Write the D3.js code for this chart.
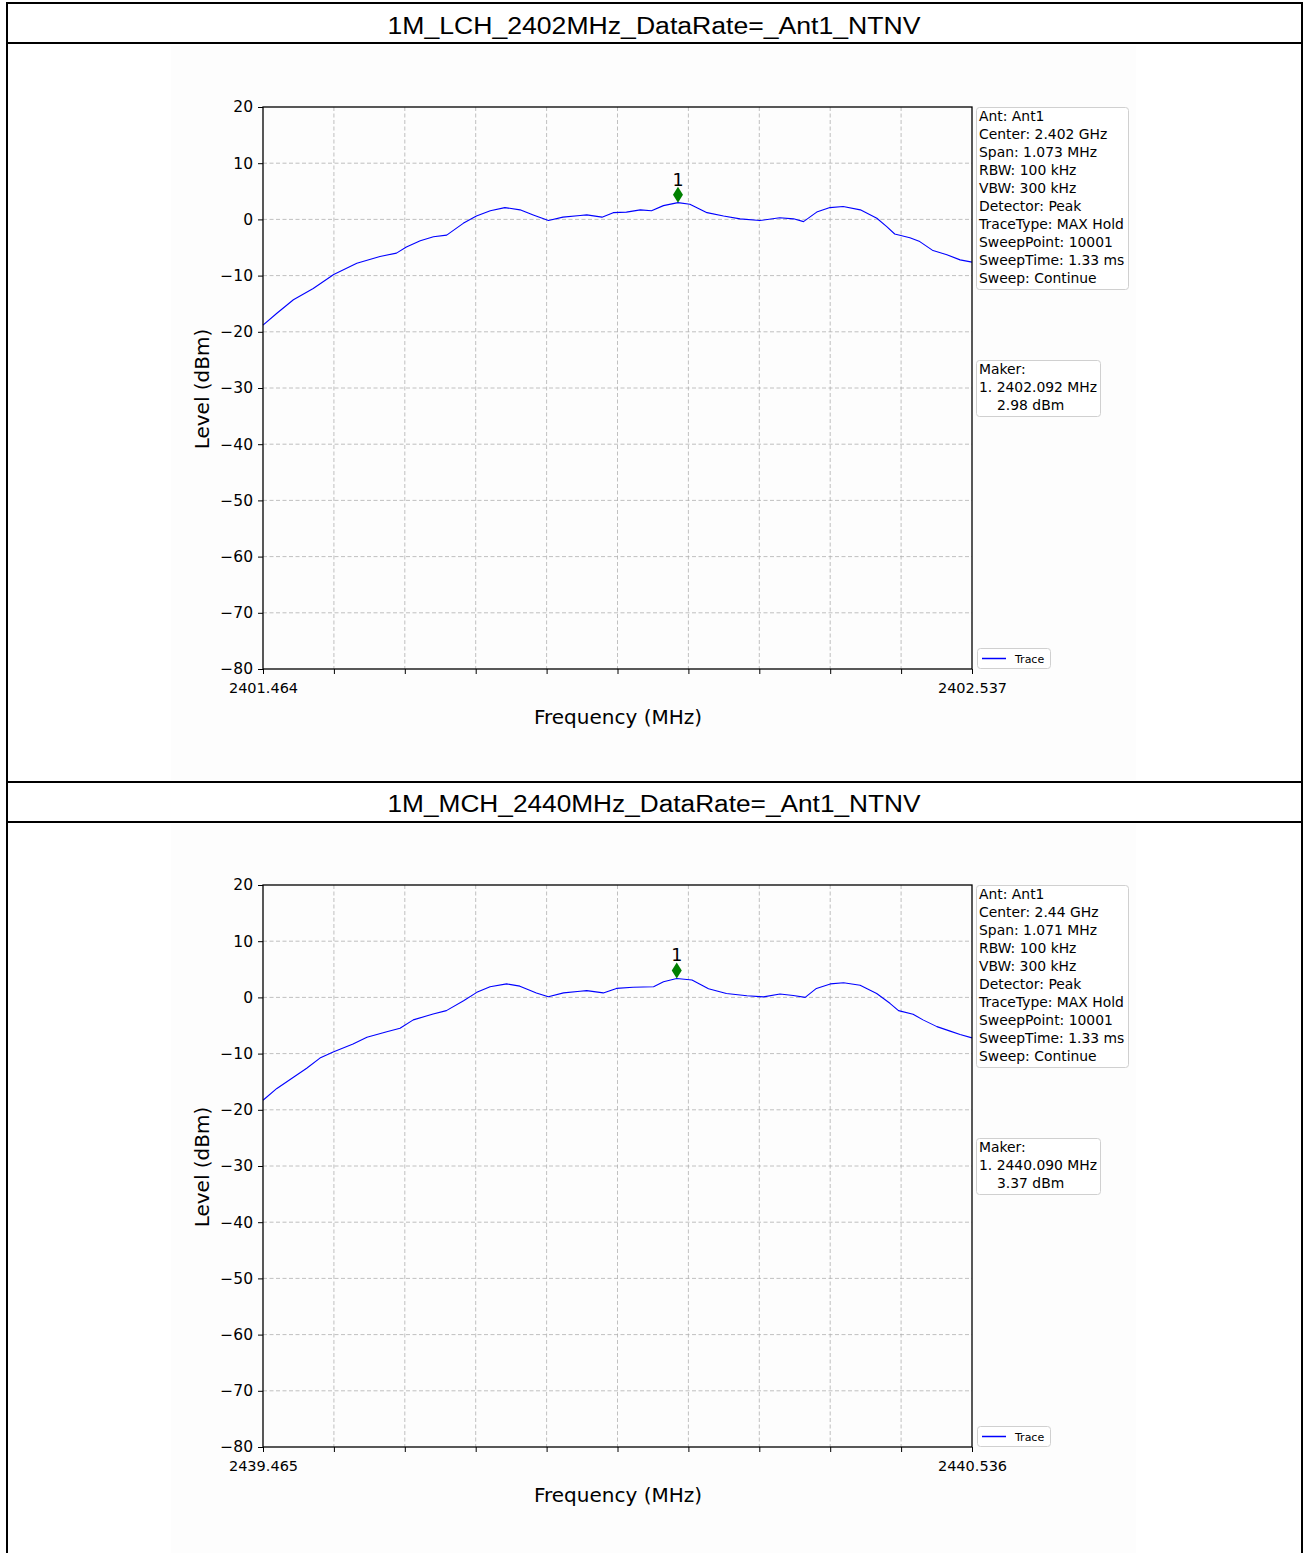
<!DOCTYPE html>
<html>
<head>
<meta charset="utf-8">
<script src="https://cdn.jsdelivr.net/npm/d3@7"></script>
<style>
  body { margin: 0; background: #fff; }
  svg { display: block; }
  .mpl text { font-family: "DejaVu Sans", sans-serif; fill: #000; }
</style>
</head>
<body>
<div id="page"></div>
<script>
// titles of the two table rows
var titles = ["1M_LCH_2402MHz_DataRate=_Ant1_NTNV", "1M_MCH_2440MHz_DataRate=_Ant1_NTNV"];

// frequency span (MHz) of each plot
var freqRanges = [[2401.464, 2402.537], [2439.465, 2440.536]];

// trace: low channel
var lchFreq = [2401.464, 2401.485, 2401.510, 2401.540, 2401.571, 2401.606, 2401.641, 2401.666, 2401.681, 2401.702,
  2401.722, 2401.742, 2401.767, 2401.787, 2401.808, 2401.830, 2401.853, 2401.873, 2401.896, 2401.918,
  2401.944, 2401.954, 2401.977, 2401.994, 2402.014, 2402.035, 2402.052, 2402.070, 2402.092, 2402.110,
  2402.136, 2402.161, 2402.186, 2402.216, 2402.246, 2402.267, 2402.282, 2402.302, 2402.322, 2402.342,
  2402.368, 2402.393, 2402.408, 2402.420, 2402.443, 2402.458, 2402.478, 2402.499, 2402.519, 2402.537];
var lchLevel = [-18.8, -16.7, -14.3, -12.3, -9.8, -7.8, -6.6, -6.0, -4.9, -3.8,
  -3.1, -2.8, -0.7, 0.6, 1.55, 2.1, 1.7, 0.8, -0.2, 0.4,
  0.7, 0.8, 0.4, 1.2, 1.3, 1.7, 1.55, 2.45, 2.98, 2.7,
  1.2, 0.6, 0.1, -0.2, 0.3, 0.1, -0.4, 1.3, 2.1, 2.3,
  1.7, 0.2, -1.3, -2.6, -3.25, -3.95, -5.55, -6.3, -7.2, -7.6];

// trace: middle channel
var mchFreq = [2439.465, 2439.486, 2439.511, 2439.531, 2439.551, 2439.571, 2439.601, 2439.622, 2439.652, 2439.672,
  2439.692, 2439.722, 2439.742, 2439.768, 2439.788, 2439.808, 2439.833, 2439.853, 2439.878, 2439.896,
  2439.919, 2439.944, 2439.954, 2439.979, 2439.999, 2440.024, 2440.055, 2440.070, 2440.090, 2440.113,
  2440.138, 2440.165, 2440.196, 2440.221, 2440.246, 2440.266, 2440.284, 2440.301, 2440.322, 2440.342,
  2440.367, 2440.392, 2440.412, 2440.425, 2440.447, 2440.462, 2440.483, 2440.503, 2440.518, 2440.536];
var mchLevel = [-18.3, -16.2, -14.2, -12.6, -10.8, -9.7, -8.3, -7.1, -6.1, -5.5,
  -4.0, -2.95, -2.35, -0.6, 0.9, 1.9, 2.4, 2.0, 0.8, 0.1,
  0.8, 1.1, 1.2, 0.8, 1.6, 1.8, 1.9, 2.8, 3.37, 3.1,
  1.55, 0.7, 0.3, 0.1, 0.6, 0.35, 0.0, 1.6, 2.4, 2.6,
  2.15, 0.7, -1.05, -2.35, -3.0, -4.0, -5.2, -6.0, -6.6, -7.2];

// markers
var markerFreq = [2402.092, 2440.090];
var markerLevel = [2.98, 3.37];

// y ticks
var levelTicks = [20, 10, 0, -10, -20, -30, -40, -50, -60, -70, -80];

// info box texts
var lchInfo = ["Ant: Ant1", "Center: 2.402 GHz", "Span: 1.073 MHz", "RBW: 100 kHz", "VBW: 300 kHz",
  "Detector: Peak", "TraceType: MAX Hold", "SweepPoint: 10001", "SweepTime: 1.33 ms", "Sweep: Continue"];
var mchInfo = ["Ant: Ant1", "Center: 2.44 GHz", "Span: 1.071 MHz", "RBW: 100 kHz", "VBW: 300 kHz",
  "Detector: Peak", "TraceType: MAX Hold", "SweepPoint: 10001", "SweepTime: 1.33 ms", "Sweep: Continue"];

var W = 1308, H = 1553;
var rowShift = 778;   // vertical distance between the two table rows

var svg = d3.select('#page').append('svg')
  .attr('width', W)
  .attr('height', H);

svg.append('rect').attr('width', W).attr('height', H).attr('fill', '#fff');

// one panel = title row + matplotlib-like figure
function drawPanel(idx, freq, level, info) {
  var g = svg.append('g').attr('transform', 'translate(0,' + (idx * rowShift) + ')');

  // faint figure background
  g.append('rect')
    .attr('x', 171).attr('y', 46)
    .attr('width', 965).attr('height', 734)
    .attr('fill', '#fdfdfd');

  // title
  g.append('text')
    .attr('x', 654).attr('y', 34)
    .attr('text-anchor', 'middle')
    .style('font-family', '"Liberation Sans", Arial, sans-serif')
    .style('font-size', '23.5px')
    .attr('textLength', 533)
    .attr('lengthAdjust', 'spacingAndGlyphs')
    .text(titles[idx]);

  var fig = g.append('g').attr('class', 'mpl');

  var margin = { left: 263, right: 972, top: 107, bottom: 669 };

  var x = d3.scaleLinear()
    .domain(freqRanges[idx])
    .range([margin.left, margin.right]);

  var y = d3.scaleLinear()
    .domain([-80, 20])
    .range([margin.bottom, margin.top]);

  var span = freqRanges[idx][1] - freqRanges[idx][0];
  var xTicks = d3.range(11).map(function(i) { return freqRanges[idx][0] + span * i / 10; });

  // grid
  fig.append('g').selectAll('line.vg').data(xTicks.slice(1, 10))
    .enter().append('line')
      .attr('x1', function(d) { return x(d); })
      .attr('x2', function(d) { return x(d); })
      .attr('y1', margin.top).attr('y2', margin.bottom)
      .attr('stroke', '#b0b0b0').attr('stroke-width', 0.8)
      .attr('stroke-dasharray', '4,2.5');

  fig.append('g').selectAll('line.hg').data(levelTicks.slice(1, 10))
    .enter().append('line')
      .attr('x1', margin.left).attr('x2', margin.right)
      .attr('y1', function(d) { return y(d); })
      .attr('y2', function(d) { return y(d); })
      .attr('stroke', '#b0b0b0').attr('stroke-width', 0.8)
      .attr('stroke-dasharray', '4,2.5');

  // trace
  var points = freq.map(function(f, i) { return [f, level[i]]; });
  var line = d3.line()
    .x(function(d) { return x(d[0]); })
    .y(function(d) { return y(d[1]); });

  fig.append('path')
    .datum(points)
    .attr('d', line)
    .attr('fill', 'none')
    .attr('stroke', '#0000ff')
    .attr('stroke-width', 1.1)
    .attr('stroke-linejoin', 'round');

  // marker
  var mx = x(markerFreq[idx]), my = y(markerLevel[idx]);
  fig.append('path')
    .attr('d', 'M' + mx + ',' + my + 'L' + (mx + 5) + ',' + (my - 8) + 'L' + mx + ',' + (my - 16) + 'L' + (mx - 5) + ',' + (my - 8) + 'Z')
    .attr('fill', '#008000');
  fig.append('text')
    .attr('x', mx).attr('y', my - 17)
    .attr('text-anchor', 'middle')
    .style('font-size', '17.5px')
    .text('1');

  // axes
  var yAxis = d3.axisLeft(y)
    .tickValues(levelTicks)
    .tickSize(5)
    .tickPadding(5)
  var yGuide = fig.append('g')
    .attr('transform', 'translate(' + margin.left + ',0)')
    .call(yAxis);

  var xAxis = d3.axisBottom(x)
    .tickValues(xTicks)
    .tickSize(5)
    .tickPadding(9)
    .tickFormat(function(d, i) { return (i === 0 || i === 10) ? d3.format('.3f')(d) : ''; });
  var xGuide = fig.append('g')
    .attr('transform', 'translate(0,' + margin.bottom + ')')
    .call(xAxis);

  [yGuide, xGuide].forEach(function(ax) {
    ax.attr('font-family', null).attr('font-size', null);
    ax.selectAll('text').style('font-size', '14.5px').attr('fill', '#000');
    ax.selectAll('line').attr('stroke', '#000').attr('stroke-width', 1);
    ax.select('.domain').remove();
  });
  yGuide.selectAll('text').style('font-size', '15.5px');

  // frame
  fig.append('rect')
    .attr('x', margin.left).attr('y', margin.top)
    .attr('width', margin.right - margin.left)
    .attr('height', margin.bottom - margin.top)
    .attr('fill', 'none')
    .attr('stroke', '#000')
    .attr('stroke-width', 1.3);

  // axis labels
  fig.append('text')
    .attr('transform', 'translate(209,389) rotate(-90)')
    .attr('text-anchor', 'middle')
    .style('font-size', '20px')
    .text('Level (dBm)');

  fig.append('text')
    .attr('x', 618).attr('y', 724)
    .attr('text-anchor', 'middle')
    .style('font-size', '20px')
    .text('Frequency (MHz)');

  // info box
  fig.append('rect')
    .attr('x', 976.5).attr('y', 107.5)
    .attr('width', 152).attr('height', 182)
    .attr('rx', 3)
    .attr('fill', '#fff')
    .attr('stroke', '#d0d0d0');
  fig.append('g').selectAll('text').data(info)
    .enter().append('text')
      .attr('x', 979)
      .attr('y', function(d, i) { return 121 + i * 18; })
      .style('font-size', '13.9px')
      .text(function(d) { return d; });

  // marker box
  fig.append('rect')
    .attr('x', 976.5).attr('y', 360.5)
    .attr('width', 124).attr('height', 56)
    .attr('rx', 3)
    .attr('fill', '#fff')
    .attr('stroke', '#d0d0d0');
  var mLines = ['Maker:', '1. ' + d3.format('.3f')(markerFreq[idx]) + ' MHz', d3.format('.2f')(markerLevel[idx]) + ' dBm'];
  fig.append('g').selectAll('text').data(mLines)
    .enter().append('text')
      .attr('x', function(d, i) { return i === 2 ? 997 : 979; })
      .attr('y', function(d, i) { return 374 + i * 18; })
      .style('font-size', '13.9px')
      .text(function(d) { return d; });

  // trace legend
  fig.append('rect')
    .attr('x', 977.5).attr('y', 648.5)
    .attr('width', 73).attr('height', 20)
    .attr('rx', 3)
    .attr('fill', '#fff')
    .attr('stroke', '#d0d0d0');
  fig.append('line')
    .attr('x1', 982).attr('x2', 1006)
    .attr('y1', 658.5).attr('y2', 658.5)
    .attr('stroke', '#0000ff').attr('stroke-width', 1.5);
  fig.append('text')
    .attr('x', 1015).attr('y', 662.5)
    .style('font-size', '11px')
    .text('Trace');
}

drawPanel(0, lchFreq, lchLevel, lchInfo);
drawPanel(1, mchFreq, mchLevel, mchInfo);

// table borders
var borders = svg.append('g').attr('stroke', '#000').attr('stroke-width', 2);
borders.append('line').attr('x1', 7).attr('x2', 7).attr('y1', 2).attr('y2', H);
borders.append('line').attr('x1', 1302).attr('x2', 1302).attr('y1', 2).attr('y2', H);
[3, 43, 782, 822].forEach(function(yy) {
  borders.append('line').attr('x1', 6).attr('x2', 1303).attr('y1', yy).attr('y2', yy);
});
</script>
</body>
</html>
